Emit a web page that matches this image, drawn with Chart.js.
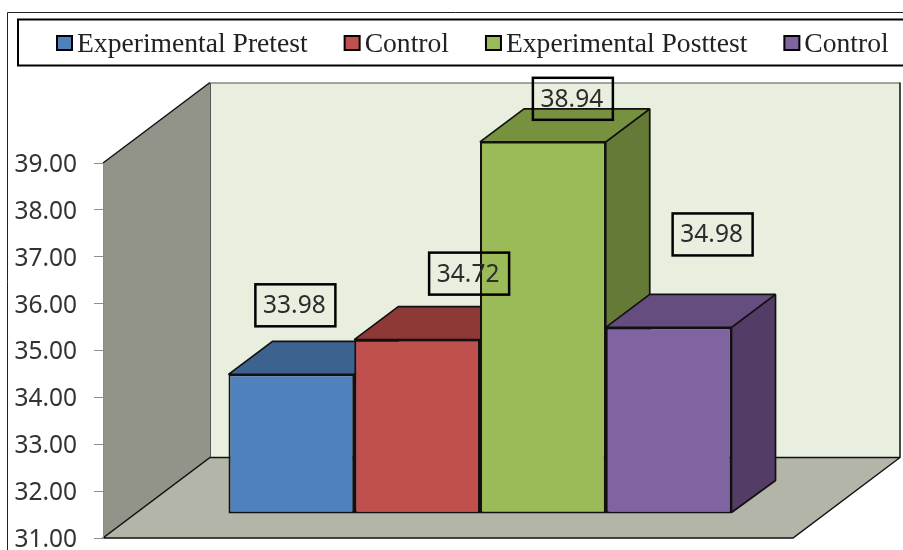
<!DOCTYPE html>
<html>
<head>
<meta charset="utf-8">
<title>Pretest and posttest means</title>
<script src="https://cdn.jsdelivr.net/npm/chart.js@4"></script>
<style>
  html, body { margin: 0; padding: 0; background: #fff; overflow: hidden; }
  canvas { display: block; }
</style>
</head>
<body>
<canvas id="chart" width="903" height="550"></canvas>
<script>
const categories = [""];
const seriesNames = ["Experimental Pretest", "Control", "Experimental Posttest", "Control"];
const seriesValues = [33.98, 34.72, 38.94, 34.98];
const axisMin = 31;
const axisMax = 39;

const frontColors = ["#4f81bd", "#c0504d", "#9bbb59", "#8064a2"];
const topColors = ["#3c6290", "#8f3937", "#76923f", "#654d80"];
const sideColors = ["#33547b", "#7a302e", "#657a36", "#533d66"];

// label box placement, relative to the front top edge of each bar
const labelOffsets = [
  { dx: 4, dy: -69 },
  { dx: 52, dy: -66 },
  { dx: 30, dy: -43 },
  { dx: 44, dy: -93 },
];

const wallDepth = { x: 107, y: -80.5 };
const barShift = { x: 32, y: -24 };
const barDepth = { x: 44, y: -33 };

function polygon(ctx, points, fill, stroke, lineWidth) {
  ctx.beginPath();
  points.forEach(([x, y], i) => (i ? ctx.lineTo(x, y) : ctx.moveTo(x, y)));
  ctx.closePath();
  ctx.fillStyle = fill;
  ctx.fill();
  if (stroke) {
    ctx.strokeStyle = stroke;
    ctx.lineWidth = lineWidth;
    ctx.lineJoin = "bevel";
    ctx.stroke();
  }
}

const box3d = {
  id: "box3d",
  // outer frame, legend and the walls and floor go under the scales
  beforeDraw(chart) {
    const { ctx, chartArea: a } = chart;
    const d = wallDepth;
    ctx.save();
    ctx.fillStyle = "#fff";
    ctx.fillRect(0, 0, chart.width, chart.height);

    ctx.strokeStyle = "#222";
    ctx.lineWidth = 1;
    ctx.beginPath();
    ctx.moveTo(7.5, chart.height);
    ctx.lineTo(7.5, 12.5);
    ctx.lineTo(chart.width, 12.5);
    ctx.stroke();

    drawLegend(ctx, chart.width);

    polygon(ctx, [[a.left + d.x, a.top + d.y], [a.right + d.x, a.top + d.y], [a.right + d.x, a.bottom + d.y], [a.left + d.x, a.bottom + d.y]], "#e9efdf", null);
    polygon(ctx, [[a.left, a.top], [a.left + d.x, a.top + d.y], [a.left + d.x, a.bottom + d.y], [a.left, a.bottom]], "#92948a", null);
    polygon(ctx, [[a.left, a.bottom], [a.left + d.x, a.bottom + d.y], [a.right + d.x, a.bottom + d.y], [a.right, a.bottom]], "#b2b5a8", null);

    ctx.strokeStyle = "#555";
    ctx.lineWidth = 1;
    ctx.beginPath();
    ctx.moveTo(a.left + d.x + 0.5, a.bottom + d.y);
    ctx.lineTo(a.left + d.x + 0.5, a.top + d.y + 0.5);
    ctx.lineTo(a.right + d.x, a.top + d.y + 0.5);
    ctx.stroke();

    ctx.strokeStyle = "#111";
    ctx.lineWidth = 1.5;
    ctx.beginPath();
    ctx.moveTo(a.left, a.top);
    ctx.lineTo(a.left + d.x, a.top + d.y);
    ctx.moveTo(a.right + d.x, a.top + d.y);
    ctx.lineTo(a.right + d.x, a.bottom + d.y);
    ctx.lineTo(a.right, a.bottom);
    ctx.lineTo(a.left, a.bottom);
    ctx.lineTo(a.left + d.x, a.bottom + d.y);
    ctx.lineTo(a.right + d.x, a.bottom + d.y);
    ctx.stroke();
    ctx.restore();
  },
  // bars go left to right so each one covers the side face of the previous one
  beforeDatasetsDraw(chart) {
    const { ctx } = chart;
    seriesValues.forEach((_, i) => {
      const meta = chart.getDatasetMeta(i);
      const bar = meta.data[0];
      const left = bar.x - bar.width / 2;
      const right = bar.x + bar.width / 2;
      const { x: dx, y: dy } = barDepth;
      ctx.save();
      ctx.translate(barShift.x, barShift.y);
      polygon(ctx, [[right, bar.y], [right + dx, bar.y + dy], [right + dx, bar.base + dy], [right, bar.base - 1]], sideColors[i], "#111", 1.7);
      polygon(ctx, [[left, bar.y], [left + dx, bar.y + dy], [right + dx, bar.y + dy], [right, bar.y]], topColors[i], "#111", 1.7);
      meta.controller.draw();
      ctx.restore();
    });
    return false;
  },
  afterDraw(chart) {
    const { ctx } = chart;
    ctx.save();
    ctx.font = '24.5px "Noto Sans"';
    ctx.textAlign = "center";
    ctx.textBaseline = "middle";
    seriesValues.forEach((value, i) => {
      const bar = chart.getDatasetMeta(i).data[0];
      const { dx, dy } = labelOffsets[i];
      const cx = bar.x + barShift.x + dx;
      const cy = bar.y + barShift.y + dy;
      ctx.strokeStyle = "#000";
      ctx.lineWidth = 2.5;
      ctx.strokeRect(cx - 40, cy - 21, 80, 42);
      ctx.fillStyle = "#2b2b2b";
      ctx.fillText(value.toFixed(2), cx - 1, cy + 1);
    });
    ctx.restore();
  },
};

function drawLegend(ctx, width) {
  ctx.strokeStyle = "#000";
  ctx.lineWidth = 2;
  ctx.strokeRect(18, 19.5, width, 46);

  ctx.font = '27.6px "Liberation Serif"';
  ctx.textAlign = "left";
  ctx.textBaseline = "alphabetic";
  let x = 57;
  seriesNames.forEach((name, i) => {
    ctx.fillStyle = frontColors[i];
    ctx.fillRect(x, 36, 15, 14);
    ctx.strokeStyle = "#000";
    ctx.lineWidth = 2;
    ctx.strokeRect(x, 36, 15, 14);
    ctx.fillStyle = "#222";
    ctx.fillText(name, x + 20, 52);
    x += 20 + ctx.measureText(name).width + 37;
  });
}

new Chart(document.getElementById("chart"), {
  type: "bar",
  data: {
    labels: categories,
    datasets: seriesNames.map((name, i) => ({
      label: name,
      data: [seriesValues[i]],
      base: axisMin,
      backgroundColor: frontColors[i],
      borderColor: "#111",
      borderWidth: 2,
      borderSkipped: false,
      barPercentage: 1,
      categoryPercentage: 0.729,
    })),
  },
  plugins: [box3d],
  options: {
    responsive: false,
    animation: false,
    layout: { padding: { top: 163, right: 110, bottom: 12, left: 0 } },
    plugins: {
      legend: { display: false },
      tooltip: { enabled: false },
    },
    scales: {
      x: { display: false },
      y: {
        min: axisMin,
        max: axisMax,
        afterFit: (scale) => {
          scale.width = 103;
          scale.paddingTop = 0;
          scale.paddingBottom = 0;
        },
        ticks: {
          stepSize: 1,
          padding: 17,
          labelOffset: 2,
          color: "#333",
          font: { family: "Noto Sans", size: 24.5 },
          callback: (value) => value.toFixed(2),
        },
        grid: { drawOnChartArea: false, tickLength: 9, color: "#8c8c8c" },
        border: { display: true, color: "#8c8c8c" },
      },
    },
  },
});
</script>
</body>
</html>
